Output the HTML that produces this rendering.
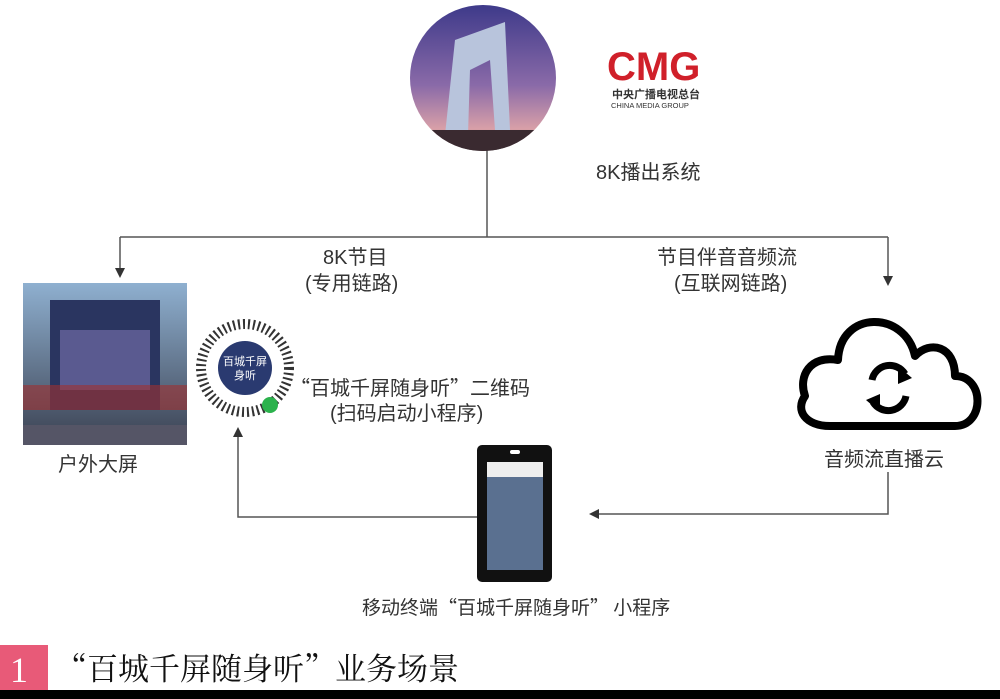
<!DOCTYPE html>
<html><head><meta charset="utf-8"><style>
body{margin:0;width:1000px;height:699px;background:#fff;position:relative;overflow:hidden;font-family:"Liberation Sans","Noto Sans CJK SC",sans-serif;color:#333}
.t{position:absolute;font-size:20px;white-space:nowrap;line-height:24px}
.q{font-family:"Noto Sans CJK SC",sans-serif}
</style></head><body>
<svg width="1000" height="699" style="position:absolute;left:0;top:0">
<defs>
<linearGradient id="sky" x1="0" y1="0" x2="0" y2="1"><stop offset="0" stop-color="#3e3a8a"/><stop offset="0.55" stop-color="#8a6aa8"/><stop offset="0.85" stop-color="#d9a0a8"/><stop offset="1" stop-color="#4a3a40"/></linearGradient>
<linearGradient id="city" x1="0" y1="0" x2="0" y2="1"><stop offset="0" stop-color="#8fb0d0"/><stop offset="1" stop-color="#3a4050"/></linearGradient>
<clipPath id="cc"><circle cx="483" cy="78" r="73"/></clipPath>
</defs>
<g stroke="#555" stroke-width="1.5" fill="none">
<line x1="487" y1="150" x2="487" y2="237"/>
<line x1="120" y1="237" x2="888" y2="237"/>
<line x1="120" y1="237" x2="120" y2="270"/>
<line x1="888" y1="237" x2="888" y2="278"/>
<polyline points="888,472 888,514 598,514"/>
<polyline points="477,517 238,517 238,436"/>
</g>
<g fill="#333">
<polygon points="115,268 125,268 120,278"/>
<polygon points="883,276 893,276 888,286"/>
<polygon points="599,509 599,519 589,514"/>
<polygon points="233,437 243,437 238,427"/>
</g>
<circle cx="483" cy="78" r="73" fill="url(#sky)"/>
<g clip-path="url(#cc)">
<polygon points="455,40 505,22 510,130 495,130 490,60 470,70 468,135 445,135" fill="#b8c4dc"/>
<rect x="405" y="130" width="160" height="25" fill="#3a2a30"/>
</g>
<text x="607" y="80" font-family="Liberation Sans" font-weight="bold" font-size="40" fill="#d0202a">CMG</text>
<text x="612" y="98" font-size="11" font-weight="bold" fill="#333" font-family="Noto Sans CJK SC">中央广播电视总台</text>
<text x="611" y="108" font-size="7.5" fill="#333">CHINA MEDIA GROUP</text>
<rect x="23" y="283" width="164" height="162" fill="url(#city)"/>
<rect x="50" y="300" width="110" height="110" fill="#2a3560"/>
<rect x="60" y="330" width="90" height="60" fill="#5a5a90"/>
<rect x="23" y="385" width="164" height="25" fill="#a03030" opacity="0.6"/>
<rect x="23" y="425" width="164" height="20" fill="#556"/>
<circle cx="245" cy="368" r="44" fill="none" stroke="#333" stroke-width="10" stroke-dasharray="2 3"/>
<circle cx="245" cy="368" r="27" fill="#2a3a70"/>
<text x="245" y="365" font-size="11" fill="#fff" text-anchor="middle" font-family="Noto Sans CJK SC">百城千屏</text>
<text x="245" y="379" font-size="11" fill="#fff" text-anchor="middle" font-family="Noto Sans CJK SC">身听</text>
<circle cx="270" cy="405" r="8" fill="#2bb24c"/>
<rect x="477" y="445" width="75" height="137" rx="5" fill="#111"/>
<rect x="487" y="462" width="56" height="108" fill="#5a7090"/>
<rect x="487" y="462" width="56" height="15" fill="#eee"/>
<rect x="510" y="450" width="10" height="4" rx="2" fill="#fff"/>
<g fill="none" stroke="#000" stroke-width="8" stroke-linejoin="round">
<path d="M830,426 L955,426 C985,426 985,376 955,376 C955,346 930,340 915,356 C905,310 840,310 838,360 C810,355 798,376 805,396 C795,410 805,426 830,426 Z"/>
</g>
<g fill="none" stroke="#000" stroke-width="7">
<path d="M872,380 A18,18 0 0 1 905,374"/>
<path d="M906,396 A18,18 0 0 1 873,402"/>
</g>
<polygon points="898,366 912,378 898,384" fill="#000"/>
<polygon points="880,412 866,400 880,394" fill="#000"/>
<rect x="0" y="645" width="48" height="45" fill="#e85a78"/>
<rect x="0" y="690" width="1000" height="9" fill="#000"/>
</svg>
<div class="t" style="left:596px;top:161px">8K播出系统</div>
<div class="t" style="left:323px;top:246px">8K节目</div>
<div class="t" style="left:305px;top:272px">(专用链路)</div>
<div class="t" style="left:657px;top:246px">节目伴音音频流</div>
<div class="t" style="left:674px;top:272px">(互联网链路)</div>
<div class="t" style="left:58px;top:453px">户外大屏</div>
<div class="t q" style="left:290px;top:375px;font-size:20px">“百城千屏随身听”二维码</div>
<div class="t" style="left:330px;top:402px">(扫码启动小程序)</div>
<div class="t" style="left:824px;top:448px">音频流直播云</div>
<div class="t q" style="left:362px;top:595px;font-size:19px">移动终端“百城千屏随身听” 小程序</div>
<div class="t" style="left:10px;top:650px;font-size:36px;line-height:40px;color:#fff;font-family:'Liberation Serif',serif">1</div>
<div class="t" style="left:56px;top:647px;font-size:31px;line-height:40px;color:#111;font-family:'Noto Serif CJK SC',serif">“百城千屏随身听”业务场景</div>
</body></html>
